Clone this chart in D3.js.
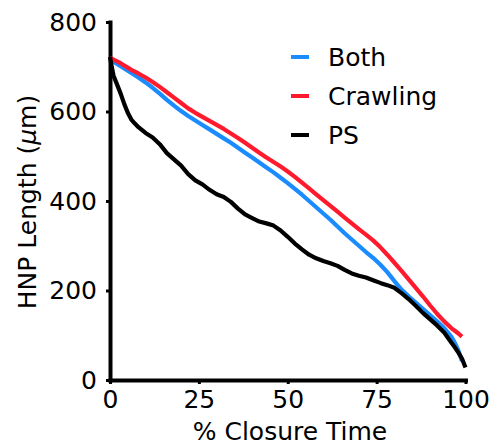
<!DOCTYPE html>
<html>
<head>
<meta charset="utf-8">
<script src="https://cdn.jsdelivr.net/npm/d3@7"></script>
<style>
  html, body { margin: 0; padding: 0; background: #fff; }
  svg text { font-family: "DejaVu Sans", Verdana, sans-serif; fill: #000; }
</style>
</head>
<body>
<svg id="chart" width="492" height="447"></svg>
<script>
// ---- data ----
const pct = [0,0.5,1,2,3,4,5,6,7,8,10,12,14,16,18,20,22,24,26,28,30,32,34,36,38,40,42,44,46,48,50,52,54,56,58,60,62,64,66,68,70,72,74,76,78,80,82,84,86,88,90,92,94,96,97,98,99,100];
const bothValues = [717,714,711,706,701,696,691,686,681,676,665,653,640,626,613,601,590,580,570,560,550,540,530,519,508,497,486,475,464,452,440,427,414,400,386,372,358,343,328,314,300,286,273,258,241,221,202,187,173,159,145,131,116,97,83,66,42,null];
const crawlingValues = [720,718,716,712,708,703,698,693,689,685,676,666,655,643,631,619,607,597,588,579,570,561,551,541,530,519,508,497,487,477,466,454,441,428,415,402,389,376,363,350,337,325,312,297,280,262,244,225,206,187,167,148,131,116,110,104,97,null];
const psValues = [722,700,680,660,640,617,597,582,573,565,552,542,527,507,493,479,460,446,437,425,415,409,398,383,370,362,354,350,345,334,320,305,292,280,272,266,261,255,246,238,233,229,223,217,212,206,194,181,166,150,136,122,106,84,73,61,48,28];
const seriesNames = ["Both","Crawling","PS"];
const seriesColors = ["#1a8cff","#ff1a2e","#000000"];
const xTicks = [0,25,50,75,100];
const yTicks = [0,200,400,600,800];
const xTitle = "% Closure Time";

// ---- layout ----
const svg = d3.select("#chart");
const x = d3.scaleLinear().domain([0,100]).range([110,465.5]);
const y = d3.scaleLinear().domain([0,800]).range([380,22]);
const FS = 25;

// axes
const gx = svg.append("g").attr("transform","translate(0,380)")
  .call(d3.axisBottom(x).tickValues(xTicks).tickSize(4).tickSizeOuter(0).tickPadding(6));
const gy = svg.append("g").attr("transform","translate(110,0)")
  .call(d3.axisLeft(y).tickValues(yTicks).tickSize(4).tickSizeOuter(0).tickPadding(9));
[gx, gy].forEach(g => {
  g.select(".domain").attr("stroke","#000").attr("stroke-width",4).attr("stroke-linecap","square");
  g.selectAll(".tick line").attr("stroke","#000").attr("stroke-width",3);
  g.selectAll(".tick text").attr("font-size",FS).attr("font-family",'"DejaVu Sans", Verdana, sans-serif').attr("fill","#000");
});

// lines
const allValues = [bothValues, crawlingValues, psValues];
const line = d3.line()
  .defined(d => d[1] != null)
  .x(d => x(d[0])).y(d => y(d[1]));
allValues.forEach((vals, i) => {
  svg.append("path")
    .datum(pct.map((p, j) => [p, vals[j]]))
    .attr("fill","none")
    .attr("stroke", seriesColors[i])
    .attr("stroke-width", 4.2)
    .attr("stroke-linejoin","round")
    .attr("d", line);
});

// axis titles
svg.append("text").attr("x", 290).attr("y", 440).attr("text-anchor","middle")
  .attr("font-size", FS).text(xTitle);
const yt = svg.append("text").attr("transform","translate(36,202) rotate(-90)")
  .attr("text-anchor","middle").attr("font-size", FS);
yt.append("tspan").text("HNP Length (");
yt.append("tspan").attr("font-style","italic").text("\u03bc");
yt.append("tspan").text("m)");

// legend
const lg = svg.append("g");
seriesNames.forEach((name, i) => {
  const cy = 57 + i * 39;
  lg.append("line").attr("x1",291).attr("x2",309).attr("y1",cy).attr("y2",cy)
    .attr("stroke", seriesColors[i]).attr("stroke-width",4);
  lg.append("text").attr("x",328).attr("y",cy + 9).attr("font-size",FS).text(name);
});
</script>
</body>
</html>
